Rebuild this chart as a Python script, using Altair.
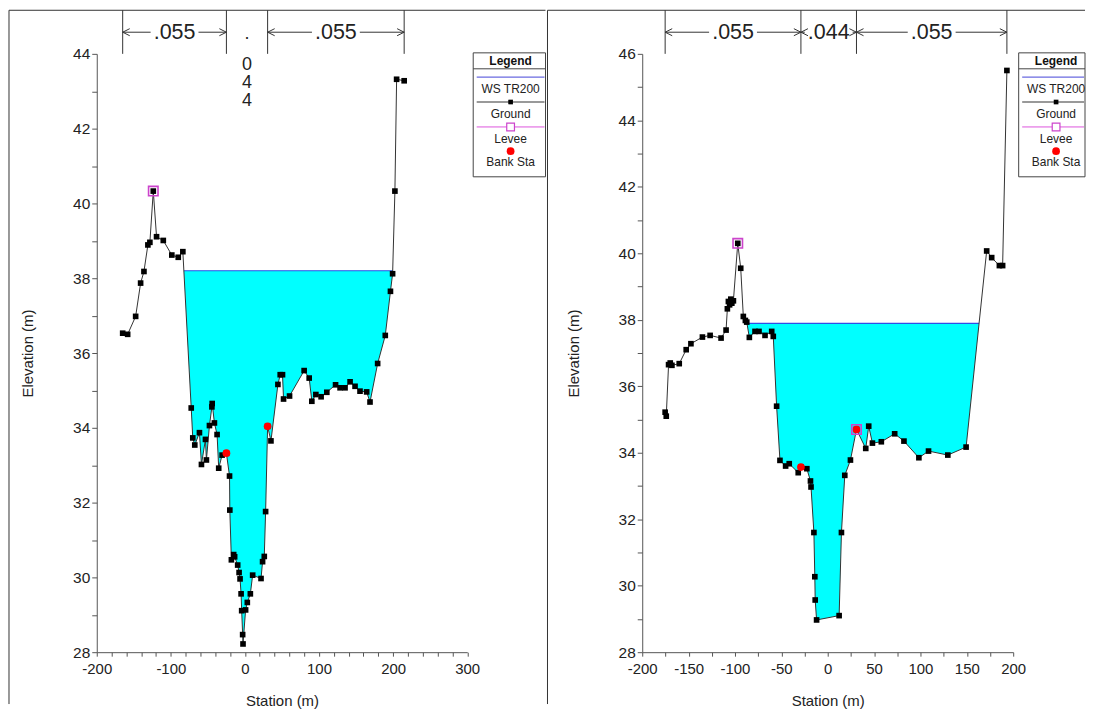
import altair as alt
import numpy as np
import pandas as pd

FONT = "Liberation Sans"

# ---------------- left cross section ----------------
L_STA = [-165.0, -158.3, -147.5, -140.8, -136.3, -131.0, -128.3, -123.7, -119.3, -110.2,
         -98.7, -90.0, -83.8, -72.5, -70.4, -67.7, -61.4, -58.7, -53.3, -52.0,
         -47.9, -44.6, -44.2, -41.2, -37.6, -35.4, -30.8, -25.0, -20.8, -20.4,
         -18.3, -15.2, -13.9, -9.8, -7.9, -6.6, -5.2, -4.4, -3.1, -2.6,
         0.9, 3.2, 7.3, 10.4, 21.7, 23.8, 26.1, 27.9, 30.6, 35.1,
         44.5, 47.6, 50.7, 52.1, 60.2, 79.9, 86.7, 90.3, 95.7, 102.8,
         110.5, 122.3, 128.4, 135.1, 141.9, 148.6, 155.3, 164.3, 168.8, 179.1,
         189.4, 196.4, 199.3, 202.4, 204.7, 214.9]
L_ELEV = [36.53, 36.50, 36.98, 37.87, 38.18, 38.89, 38.96, 40.33, 39.11, 39.01,
          38.62, 38.56, 38.71, 34.53, 33.73, 33.54, 33.87, 33.02, 33.69, 33.14,
          34.06, 34.56, 34.65, 34.13, 33.82, 32.92, 33.27, 33.32, 32.71, 31.80,
          30.47, 30.61, 30.55, 30.33, 30.13, 29.96, 29.56, 29.11, 28.47, 28.22,
          29.13, 29.33, 29.56, 30.06, 29.97, 30.42, 30.56, 31.76, 34.04, 33.65,
          35.16, 35.42, 35.42, 34.77, 34.85, 35.53, 35.33, 34.71, 34.89, 34.83,
          34.95, 35.15, 35.07, 35.07, 35.23, 35.11, 34.98, 34.96, 34.69, 35.72,
          36.47, 37.65, 38.12, 40.33, 43.32, 43.28]
L_WS = 38.2
L_LEVEE_STA = [-123.7]
L_LEVEE_ELEV = [40.33]
L_BANK_STA = [-25.0, 30.6]
L_BANK_ELEV = [33.32, 34.04]
L_N = [".055", ".044", ".055"]
L_XDOM = [-200, 300]
L_YDOM = [28, 44]

# ---------------- right cross section ----------------
R_STA = [-175.3, -174.1, -171.6, -169.8, -168.0, -160.1, -152.6, -147.5, -135.1, -126.8,
         -115.0, -109.6, -108.2, -107.1, -105.8, -104.5, -103.4, -101.7, -97.0, -93.8,
         -91.0, -88.8, -87.3, -84.5, -78.4, -74.1, -67.6, -60.4, -58.7, -55.1,
         -51.5, -45.4, -41.5, -31.8, -28.9, -22.5, -18.6, -18.0, -14.9, -13.9,
         -13.5, -12.0, 12.3, 14.8, 18.4, 24.5, 31.0, 41.0, 44.2, 48.2,
         57.8, 72.2, 82.2, 98.3, 108.7, 129.5, 149.2, 171.4, 176.8, 185.1,
         188.6, 193.2]
R_ELEV = [35.22, 35.10, 36.65, 36.70, 36.63, 36.68, 37.10, 37.28, 37.48, 37.53,
          37.45, 37.69, 38.33, 38.55, 38.45, 38.62, 38.50, 38.57, 40.30, 39.55,
          38.10, 37.98, 37.93, 37.47, 37.65, 37.65, 37.53, 37.65, 37.50, 35.40,
          33.77, 33.60, 33.67, 33.40, 33.57, 33.52, 33.15, 32.97, 31.60, 30.27,
          29.57, 28.97, 29.10, 31.60, 33.32, 33.78, 34.70, 34.13, 34.80, 34.29,
          34.33, 34.57, 34.35, 33.85, 34.05, 33.93, 34.17, 40.07, 39.87, 39.63,
          39.63, 45.50]
R_WS = 37.89
R_LEVEE_STA = [-97.0, 31.0]
R_LEVEE_ELEV = [40.30, 34.70]
R_BANK_STA = [-28.9, 31.0]
R_BANK_ELEV = [33.57, 34.70]
R_N = [".055", ".044", ".055"]
R_XDOM = [-200, 200]
R_YDOM = [28, 46]

LEGEND_TITLE = "Legend"
LEGEND_LABELS = ["WS TR200", "Ground", "Levee", "Bank Sta"]

WS_COLOR = "#2f4fe6"
FILL_COLOR = "#00ffff"
LEVEE_COLOR = "#cc44cc"
BANK_COLOR = "#ff0000"
LINE_COLOR = "#333333"


def num_label(step):
    return (f"datum.value % {step} == 0 ? (datum.value < 0 ? '-' + abs(datum.value) "
            f": '' + datum.value) : ''")


def make_panel(sta, elev, ws, lv_sta, lv_elev, bk_sta, bk_elev, n_labels,
               xdom, ydom, xstep, xlab, width, height, frame_l, frame_r, box_r, left_line):
    one = pd.DataFrame({"k": [0]})
    ground = pd.DataFrame({"station": sta, "elev": elev})
    s = np.array(sta, float)
    e = np.array(elev, float)
    k = int(np.argmin(e))
    lo, hi = k, k
    while lo > 0 and e[lo - 1] < ws:
        lo -= 1
    while hi < len(e) - 1 and e[hi + 1] < ws:
        hi += 1

    def cross(a, b):
        t = (ws - e[a]) / (e[b] - e[a])
        return float(s[a] + t * (s[b] - s[a]))

    xl, xr = cross(lo - 1, lo), cross(hi, hi + 1)
    fill = pd.DataFrame({"station": [xl] + list(s[lo:hi + 1]) + [xr],
                         "elev": [ws] + list(e[lo:hi + 1]) + [ws]})
    fill["ws"] = ws
    wsdf = pd.DataFrame({"station": [xl], "station2": [xr], "elev": [ws]})

    xaxis = alt.Axis(title="Station (m)", values=list(range(xdom[0], xdom[1] + 1, xstep)),
                     labelExpr=num_label(xlab), grid=False, tickSize=4, labelPadding=5,
                     titlePadding=17, labelFontSize=15, titleFontSize=15,
                     labelFont=FONT, titleFont=FONT, titleFontWeight="normal",
                     domainColor="#555", tickColor="#555", labelColor="#222",
                     titleColor="#222", labelOverlap=False, labelFlush=False)
    yaxis = alt.Axis(title="Elevation (m)", values=list(range(ydom[0], ydom[1] + 1)),
                     labelExpr=num_label(2), grid=False, tickSize=5, labelPadding=2,
                     titlePadding=37, labelFontSize=15.5, titleFontSize=15,
                     labelFont=FONT, titleFont=FONT, titleFontWeight="normal",
                     domainColor="#555", tickColor="#555", labelColor="#222",
                     titleColor="#222", labelOverlap=False, labelFlush=False)
    X = alt.X("station:Q", scale=alt.Scale(domain=xdom, nice=False, zero=False), axis=xaxis)
    Y = alt.Y("elev:Q", scale=alt.Scale(domain=ydom, nice=False, zero=False), axis=yaxis)

    layers = []
    # window frame (top edge, and the left edge of each window)
    top = -43.7
    layers.append(alt.Chart(one).mark_rule(color="#333", strokeWidth=1,
                                           opacity=1 if left_line else 0).encode(
        x=alt.value(frame_l), y=alt.value(top), y2=alt.value(652)))
    layers.append(alt.Chart(one).mark_rule(color="#333", strokeWidth=1).encode(
        x=alt.value(frame_l), x2=alt.value(frame_r), y=alt.value(top)))

    # water
    layers.append(alt.Chart(fill).mark_area(color=FILL_COLOR, opacity=1).encode(
        x=X, y=Y, y2=alt.Y2("ws:Q")))
    layers.append(alt.Chart(wsdf).mark_rule(color=WS_COLOR, strokeWidth=1.2).encode(
        x=X, x2=alt.X2("station2:Q"), y=Y))
    # ground
    layers.append(alt.Chart(ground).mark_line(color=LINE_COLOR, strokeWidth=1).encode(x=X, y=Y))
    layers.append(alt.Chart(ground).mark_square(size=32, color="black", opacity=1).encode(x=X, y=Y))
    bank = pd.DataFrame({"station": bk_sta, "elev": bk_elev})
    layers.append(alt.Chart(bank).mark_circle(size=60, color=BANK_COLOR, opacity=1).encode(x=X, y=Y))
    levee = pd.DataFrame({"station": lv_sta, "elev": lv_elev})
    layers.append(alt.Chart(levee).mark_point(shape="square", size=90, filled=False,
                                              color=LEVEE_COLOR, strokeWidth=1.6,
                                              opacity=1).encode(x=X, y=Y))

    # Manning's n annotations
    breaks = [sta[0], bk_sta[0], bk_sta[1], sta[-1]]
    layers.append(alt.Chart(pd.DataFrame({"station": breaks})).mark_rule(
        color="#333", strokeWidth=1).encode(x=X, y=alt.value(top), y2=alt.value(0)))
    pxu = width / (xdom[1] - xdom[0])
    hrows, vrows = [], []
    for i, lab in enumerate(n_labels):
        a, b = breaks[i], breaks[i + 1]
        c = (a + b) / 2
        if (b - a) * pxu < 46:
            vrows.append((c, lab))
        else:
            hrows.append((a, b, c, lab))
    if hrows:
        h = pd.DataFrame(hrows, columns=["a", "b", "c", "label"])
        gap = 24
        la = pd.DataFrame({"station": h["a"], "station2": h["c"]})
        ra = pd.DataFrame({"station": h["c"], "station2": h["b"]})
        layers.append(alt.Chart(la).mark_rule(color="#333", strokeWidth=1, x2Offset=-gap).encode(
            x=X, x2=alt.X2("station2:Q"), y=alt.value(-21.7)))
        layers.append(alt.Chart(ra).mark_rule(color="#333", strokeWidth=1, xOffset=gap).encode(
            x=X, x2=alt.X2("station2:Q"), y=alt.value(-21.7)))
        layers.append(alt.Chart(pd.DataFrame({"station": h["a"]})).mark_point(
            shape="M 2 -1 L 0 0 L 2 1", size=50, filled=False, color="#333",
            strokeWidth=1, opacity=1).encode(x=X, y=alt.value(-21.7)))
        layers.append(alt.Chart(pd.DataFrame({"station": h["b"]})).mark_point(
            shape="M -2 -1 L 0 0 L -2 1", size=50, filled=False, color="#333",
            strokeWidth=1, opacity=1).encode(x=X, y=alt.value(-21.7)))
        layers.append(alt.Chart(pd.DataFrame({"station": h["c"], "label": h["label"]})).mark_text(
            font=FONT, fontSize=21.5, baseline="alphabetic", align="center", color="#222").encode(
            x=X, y=alt.value(-15), text="label:N"))
    vbase = [-14.7, 15.8, 33.8, 51.8]
    for c, lab in vrows:
        for j, ch in enumerate(lab):
            layers.append(alt.Chart(pd.DataFrame({"station": [c]})).mark_text(
                text=ch, font=FONT, fontSize=18, baseline="alphabetic", align="center",
                color="#222").encode(x=X, y=alt.value(vbase[j])))

    # legend box
    bx0, cx = 377.5, 415
    lx0, lx1 = bx0 + 3.5, min(cx + 34, box_r - 1)
    layers.append(alt.Chart(one).mark_rect(fill="white", stroke="#444", strokeWidth=1).encode(
        x=alt.value(bx0), x2=alt.value(box_r), y=alt.value(-1), y2=alt.value(123.3)))
    layers.append(alt.Chart(one).mark_rule(color="#444", strokeWidth=1).encode(
        x=alt.value(bx0), x2=alt.value(box_r), y=alt.value(15)))
    layers.append(alt.Chart(one).mark_text(text=LEGEND_TITLE, font=FONT, fontSize=12,
                                           fontWeight="bold", baseline="middle", color="#111").encode(
        x=alt.value(cx), y=alt.value(7)))
    sym_y = [23.3, 48.3, 73.3, 97.6]
    lab_y = [35, 60, 85, 108.3]
    layers.append(alt.Chart(one).mark_rule(color="#6a6ae0", strokeWidth=1.2).encode(
        x=alt.value(lx0), x2=alt.value(lx1), y=alt.value(sym_y[0])))
    layers.append(alt.Chart(one).mark_rule(color=LINE_COLOR, strokeWidth=1).encode(
        x=alt.value(lx0), x2=alt.value(lx1), y=alt.value(sym_y[1])))
    layers.append(alt.Chart(one).mark_square(size=22, color="black", opacity=1).encode(
        x=alt.value(cx), y=alt.value(sym_y[1])))
    layers.append(alt.Chart(one).mark_rule(color="#dd55dd", strokeWidth=1).encode(
        x=alt.value(lx0), x2=alt.value(lx1), y=alt.value(sym_y[2])))
    layers.append(alt.Chart(one).mark_point(shape="square", size=60, filled=True, fill="white",
                                            stroke=LEVEE_COLOR, strokeWidth=1.2, opacity=1).encode(
        x=alt.value(cx), y=alt.value(sym_y[2])))
    layers.append(alt.Chart(one).mark_circle(size=60, color=BANK_COLOR, opacity=1).encode(
        x=alt.value(cx), y=alt.value(sym_y[3])))
    for t, yy in zip(LEGEND_LABELS, lab_y):
        layers.append(alt.Chart(one).mark_text(text=t, font=FONT, fontSize=12, baseline="middle",
                                               color="#222").encode(x=alt.value(cx), y=alt.value(yy)))

    return alt.layer(*layers).properties(width=width, height=height)


left = make_panel(L_STA, L_ELEV, L_WS, L_LEVEE_STA, L_LEVEE_ELEV, L_BANK_STA, L_BANK_ELEV, L_N,
                  L_XDOM, L_YDOM, 20, 100, 371.5, 600, -88, 450, 450, True)
right = make_panel(R_STA, R_ELEV, R_WS, R_LEVEE_STA, R_LEVEE_ELEV, R_BANK_STA, R_BANK_ELEV, R_N,
                   R_XDOM, R_YDOM, 25, 50, 372, 600, -95, 444, 444, True)

chart = alt.hconcat(left, right, spacing=0).properties(padding=0).configure_view(stroke=None)
chart.save("out.html", embed_options={"renderer": "svg", "actions": False})
